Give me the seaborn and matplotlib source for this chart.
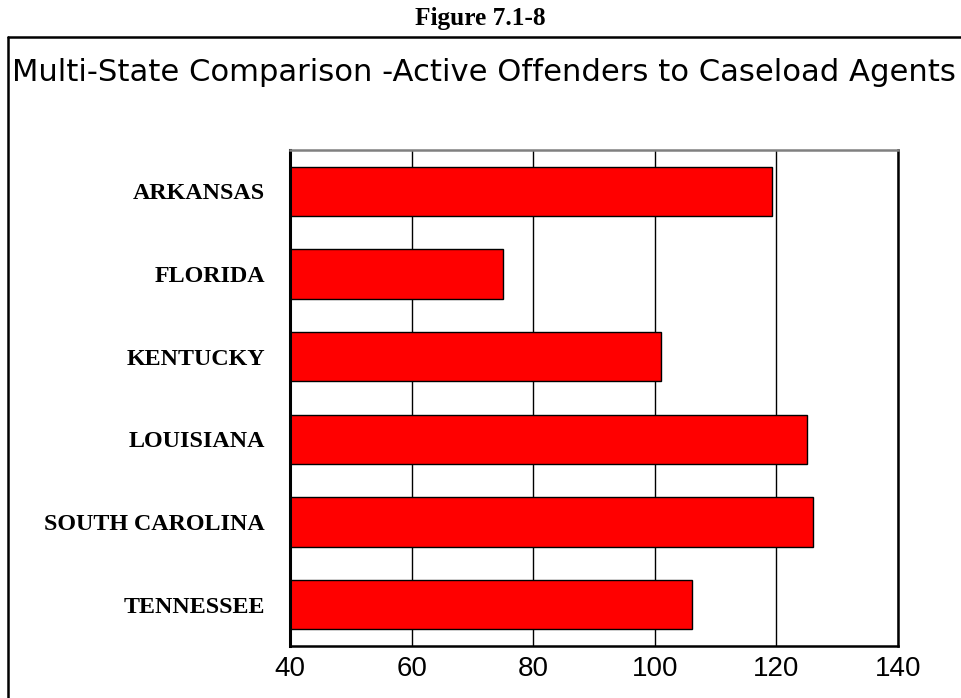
import matplotlib
matplotlib.use("Agg")
import matplotlib.pyplot as plt
import seaborn as sns
import pandas as pd
from matplotlib.lines import Line2D

states = ["ARKANSAS", "FLORIDA", "KENTUCKY", "LOUISIANA", "SOUTH CAROLINA", "TENNESSEE"]
ratios = [119.2, 75.1, 101.1, 125.0, 126.1, 106.1]
x_ticks = [40, 60, 80, 100, 120, 140]

sns.set_style("white")
plt.rcParams["font.family"] = ["Liberation Sans", "DejaVu Sans"]
plt.rcParams["text.color"] = "black"
plt.rcParams["xtick.color"] = "black"
plt.rcParams["ytick.color"] = "black"
plt.rcParams["xtick.labelcolor"] = "black"
plt.rcParams["ytick.labelcolor"] = "black"

df = pd.DataFrame({"state": states, "ratio": ratios})

fig = plt.figure(figsize=(9.61, 6.98), dpi=100)
W, H = 961, 698
ax = fig.add_axes([290 / W, 52 / H, (898 - 290) / W, (646 - 150) / H])

sns.barplot(data=df, y="state", x="ratio", orient="h", color="#FF0000",
            edgecolor="black", linewidth=1.0, width=0.6, saturation=1, ax=ax)

ax.set_xlim(40, 140)
ax.set_ylim(len(states) - 0.5, -0.5)
ax.set_xticks(x_ticks)
ax.set_xticklabels([str(t) for t in x_ticks], fontsize=20, family="Liberation Sans",
                   color="black")
ax.set_yticklabels(states, fontsize=17.3, fontweight="bold", family="Liberation Serif",
                   color="black")
ax.tick_params(axis="x", length=0, pad=7)
ax.tick_params(axis="y", length=0, pad=18)
ax.set_xlabel("")
ax.set_ylabel("")
ax.set_axisbelow(True)
ax.xaxis.grid(True, color="black", linewidth=1.0)
ax.yaxis.grid(False)

for side in ["left", "bottom", "right"]:
    ax.spines[side].set_visible(True)
    ax.spines[side].set_color("black")
ax.spines["left"].set_linewidth(2.2)
ax.spines["bottom"].set_linewidth(1.8)
ax.spines["right"].set_linewidth(1.8)
ax.spines["top"].set_visible(True)
ax.spines["top"].set_color("#808080")
ax.spines["top"].set_linewidth(1.8)

# Outer box (left and top edges visible; rest extends past the image)
fig.add_artist(Line2D([8 / W, 8 / W], [0, 1 - 37 / H], transform=fig.transFigure,
                      color="black", linewidth=1.8))
fig.add_artist(Line2D([8 / W, 1.0], [1 - 37 / H, 1 - 37 / H], transform=fig.transFigure,
                      color="black", linewidth=1.8))

fig.text(480 / W, 1 - 18 / H, "Figure 7.1-8", ha="center", va="center",
         fontsize=18.3, fontweight="bold", family="Liberation Serif", color="black")

t = fig.text(12 / W, 1 - 81 / H, "Multi-State Comparison -Active Offenders to Caseload Agents",
             ha="left", va="baseline", fontsize=20, family="DejaVu Sans", color="black")
fig.canvas.draw()
bb = t.get_window_extent()
t.set_fontsize(20 * (944 / bb.width))

fig.savefig("out.png", dpi=100)
